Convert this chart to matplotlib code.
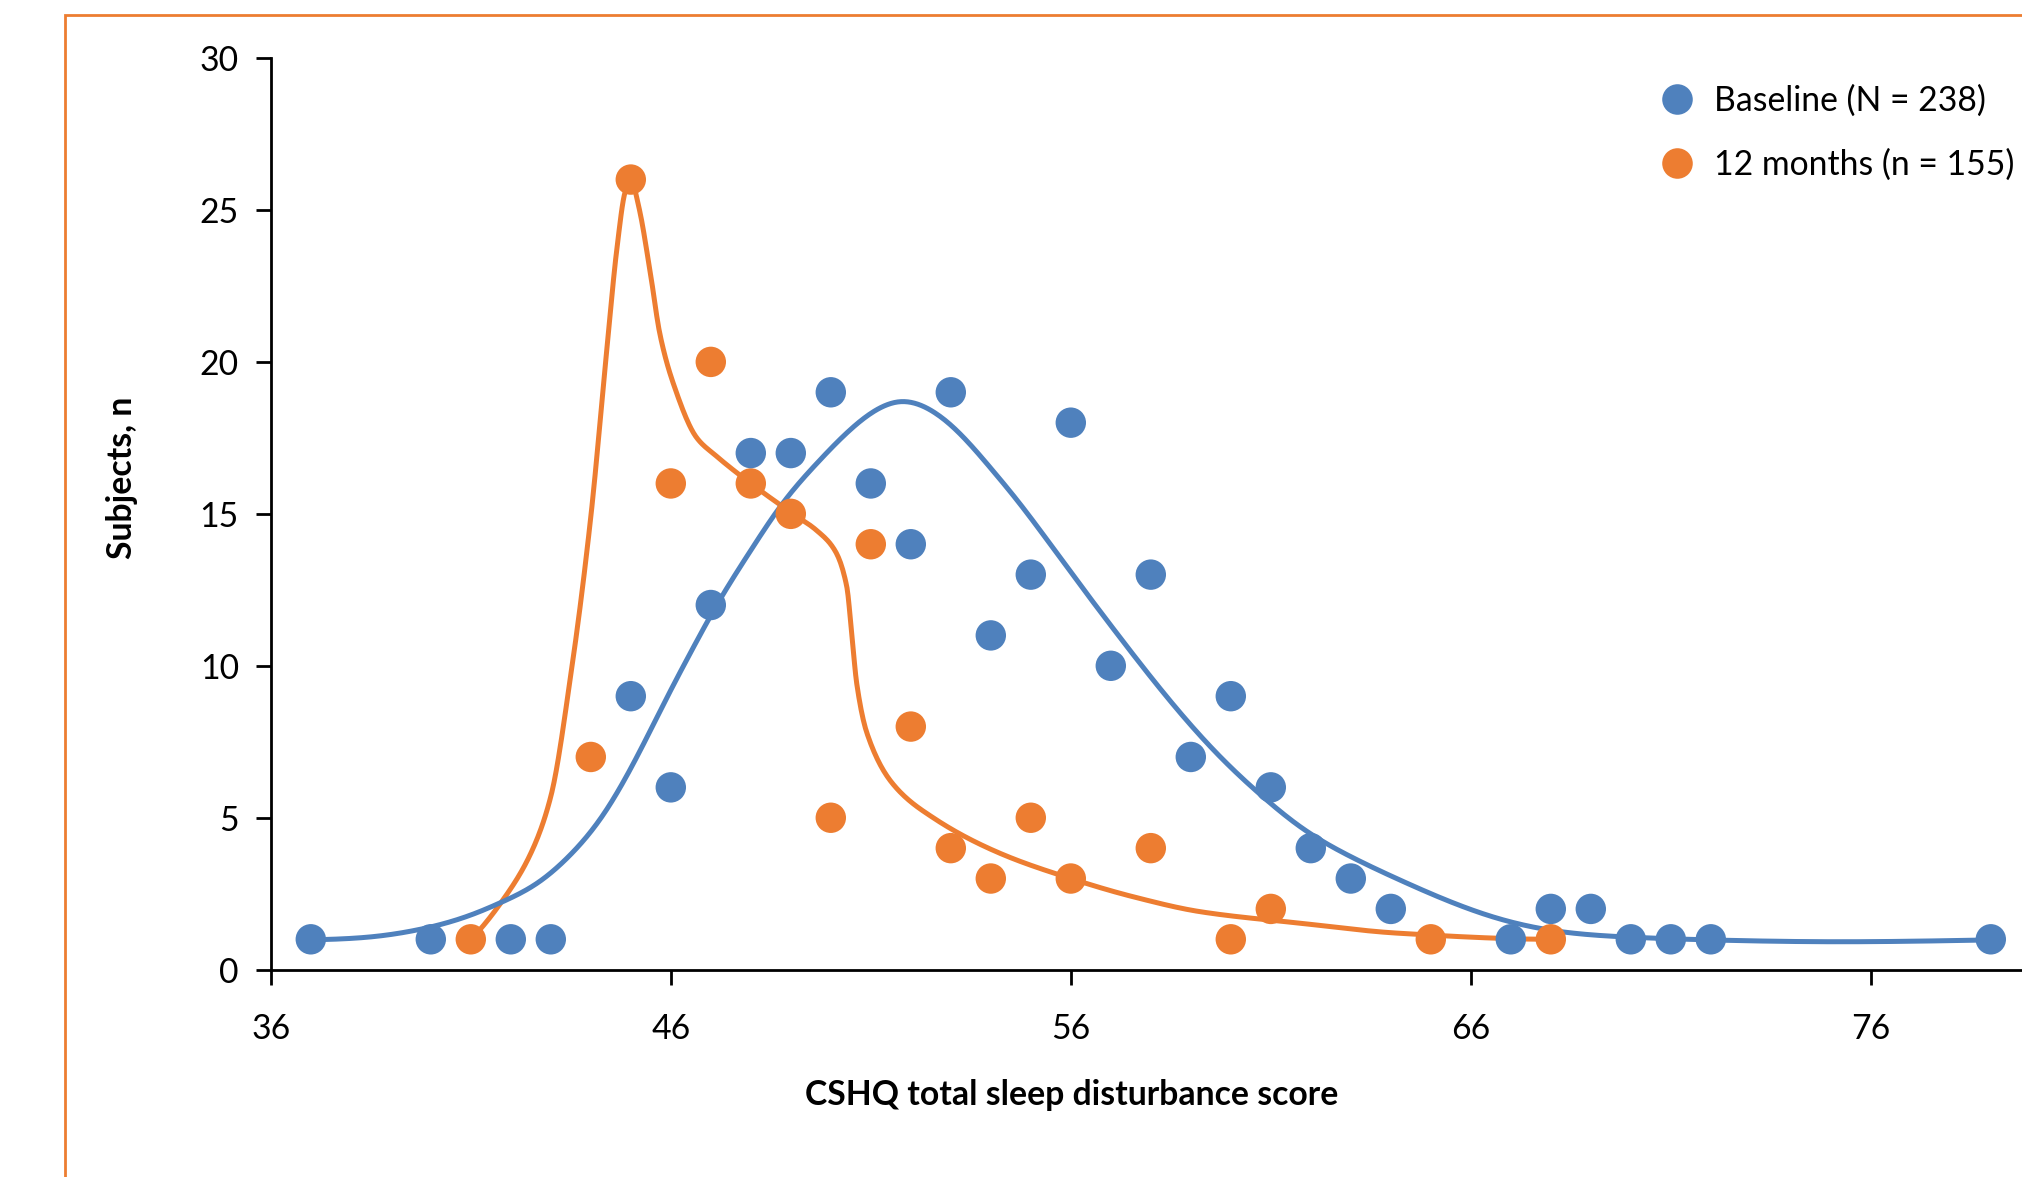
import numpy as np
import matplotlib
matplotlib.use("Agg")
import matplotlib.pyplot as plt
from matplotlib.lines import Line2D
from matplotlib.patches import Rectangle

plt.rcParams['font.family'] = ['Lato', 'DejaVu Sans']

# ---------------- data ----------------
baseline_x = [37, 40, 42, 43, 45, 46, 47, 48, 49, 50, 51, 52, 53, 54, 55, 56, 57, 58,
              59, 60, 61, 62, 63, 64, 67, 68, 69, 70, 71, 72, 79]
baseline_n = [1, 1, 1, 1, 9, 6, 12, 17, 17, 19, 16, 14, 19, 11, 13, 18, 10, 13,
              7, 9, 6, 4, 3, 2, 1, 2, 2, 1, 1, 1, 1]

month12_x = [41, 44, 45, 46, 47, 48, 49, 50, 51, 52, 53, 54, 55, 56, 58, 60, 61, 65, 68]
month12_n = [1, 7, 26, 16, 20, 16, 15, 5, 14, 8, 4, 3, 5, 3, 4, 1, 2, 1, 1]

# smoothed trend curves: knots
baseline_fit_x = [37, 38.5, 39.7, 41, 41.8, 42.65, 43.48, 44.31, 45.15, 46.0, 46.48, 47.15,
                  48.0, 48.8, 49.65, 50.48, 51.3, 51.73, 52.56, 53.0, 54.0, 54.65, 55.9,
                  57.15, 58.4, 59.65, 60.9, 61.73, 63.0, 64.23, 66.7, 68.0, 70.0, 72.0,
                  75.1, 79.0]
baseline_fit_y = [0.98, 1.08, 1.32, 1.8, 2.24, 2.84, 3.77, 5.1, 7.0, 9.2, 10.4, 12.0,
                  13.8, 15.35, 16.66, 17.76, 18.53, 18.69, 18.36, 17.92, 16.5, 15.46, 13.26,
                  11.07, 8.98, 7.12, 5.58, 4.71, 3.72, 2.95, 1.68, 1.3, 1.07, 0.98,
                  0.92, 0.98]

month12_fit_x = [41, 41.8, 42.5, 43.0, 43.5, 44.0, 44.4, 44.65, 44.86, 45.0, 45.2, 45.48,
                 45.73, 46.06, 46.65, 47.14, 48.0, 49.0, 49.65, 50.1, 50.4, 50.52, 50.65,
                 50.9, 51.56, 52.56, 54.23, 56.0, 57.56, 59.23, 61.73, 64.2, 68.0]
month12_fit_y = [1.0, 2.29, 3.83, 5.7, 9.7, 14.9, 20.4, 23.7, 25.6, 26.0, 25.1, 23.0,
                 20.9, 19.3, 17.5, 16.9, 16.0, 15.05, 14.45, 13.8, 12.6, 11.1, 9.4,
                 7.8, 6.1, 5.0, 3.83, 3.0, 2.4, 1.91, 1.53, 1.2, 1.0]

x_ticks = [36, 46, 56, 66, 76]
y_ticks = [0, 5, 10, 15, 20, 25, 30]

labels = ["Baseline (N = 238)", "12 months (n = 155)"]
x_label = "CSHQ total sleep disturbance score"
y_label = "Subjects, n"

BLUE = "#4F81BD"
ORANGE = "#ED7D31"
FS = 24.3


def pchip(x, y, xs):
    x = np.asarray(x, float)
    y = np.asarray(y, float)
    h = np.diff(x)
    delta = np.diff(y) / h
    n = len(x)
    d = np.zeros(n)
    for k in range(1, n - 1):
        if delta[k - 1] * delta[k] <= 0:
            d[k] = 0.0
        else:
            w1 = 2 * h[k] + h[k - 1]
            w2 = h[k] + 2 * h[k - 1]
            d[k] = (w1 + w2) / (w1 / delta[k - 1] + w2 / delta[k])

    def end(h0, h1, d0, d1):
        v = ((2 * h0 + h1) * d0 - h0 * d1) / (h0 + h1)
        if np.sign(v) != np.sign(d0):
            v = 0.0
        elif np.sign(d0) != np.sign(d1) and abs(v) > abs(3 * d0):
            v = 3 * d0
        return v

    d[0] = end(h[0], h[1], delta[0], delta[1])
    d[-1] = end(h[-1], h[-2], delta[-1], delta[-2])
    xs = np.asarray(xs, float)
    idx = np.clip(np.searchsorted(x, xs) - 1, 0, n - 2)
    t = (xs - x[idx]) / h[idx]
    h00 = 2 * t**3 - 3 * t**2 + 1
    h10 = t**3 - 2 * t**2 + t
    h01 = -2 * t**3 + 3 * t**2
    h11 = t**3 - t**2
    return h00 * y[idx] + h10 * h[idx] * d[idx] + h01 * y[idx + 1] + h11 * h[idx] * d[idx + 1]


def natural_spline(x, y, xs):
    x = np.asarray(x, float)
    y = np.asarray(y, float)
    n = len(x)
    h = np.diff(x)
    A = np.zeros((n, n))
    r = np.zeros(n)
    A[0, 0] = A[-1, -1] = 1.0
    for i in range(1, n - 1):
        A[i, i - 1] = h[i - 1]
        A[i, i] = 2 * (h[i - 1] + h[i])
        A[i, i + 1] = h[i]
        r[i] = 6 * ((y[i + 1] - y[i]) / h[i] - (y[i] - y[i - 1]) / h[i - 1])
    M = np.linalg.solve(A, r)
    xs = np.asarray(xs, float)
    idx = np.clip(np.searchsorted(x, xs) - 1, 0, n - 2)
    a = x[idx + 1] - xs
    b = xs - x[idx]
    hh = h[idx]
    return (M[idx] * a**3 / (6 * hh) + M[idx + 1] * b**3 / (6 * hh)
            + (y[idx] / hh - M[idx] * hh / 6) * a + (y[idx + 1] / hh - M[idx + 1] * hh / 6) * b)


W, H = 2022, 1177
fig = plt.figure(figsize=(W / 100, H / 100), dpi=100)

# orange outer frame (chart-area border, cropped on the right and bottom)
fig.patches.append(Rectangle((65 / W, -0.5), 2.0, 1.5 - 15 / H, transform=fig.transFigure,
                             fill=False, edgecolor=ORANGE, linewidth=2.0, zorder=0))

left = 270.8 / W
bottom = 1 - 969.7 / H
top = 1 - 58.0 / H
ax = fig.add_axes([left, bottom, 44 * 40 / W, top - bottom])
ax.set_xlim(36, 80)
ax.set_ylim(0, 30)

for s in ["top", "right"]:
    ax.spines[s].set_visible(False)
for s in ["left", "bottom"]:
    ax.spines[s].set_linewidth(2.0)
    ax.spines[s].set_color("black")

ax.set_xticks(x_ticks)
ax.set_yticks(y_ticks)
ax.tick_params(axis="both", direction="out", length=11, width=2.0, labelsize=FS, colors="black")
ax.tick_params(axis="y", pad=12)
ax.tick_params(axis="x", pad=20)

xs_b = np.linspace(baseline_fit_x[0], baseline_fit_x[-1], 1000)
xs_o = np.linspace(month12_fit_x[0], month12_fit_x[-1], 1000)
ax.plot(xs_o, pchip(month12_fit_x, month12_fit_y, xs_o), color=ORANGE, lw=3.6, zorder=2,
        solid_capstyle="round", solid_joinstyle="round", clip_on=False)
ax.plot(xs_b, natural_spline(baseline_fit_x, baseline_fit_y, xs_b), color=BLUE, lw=3.6,
        zorder=2.5, solid_capstyle="round", solid_joinstyle="round", clip_on=False)

ax.scatter(month12_x, month12_n, s=480, color=ORANGE, edgecolors="none", zorder=3, clip_on=False)
ax.scatter(baseline_x, baseline_n, s=480, color=BLUE, edgecolors="none", zorder=3.5, clip_on=False)

fig.text(122.5 / W, 1 - 478 / H, y_label, rotation=90, ha="center", va="center",
         fontsize=FS, fontweight="bold")
fig.text(1071.6 / W, 1 - 1095 / H, x_label, ha="center", va="center",
         fontsize=FS, fontweight="bold")

handles = [Line2D([], [], ls="", marker="o", ms=22, color=BLUE, mec="none"),
           Line2D([], [], ls="", marker="o", ms=22, color=ORANGE, mec="none")]
fig.legend(handles, labels, loc="upper left", bbox_to_anchor=(1660.4 / W, 1 - 84.5 / H),
           bbox_transform=fig.transFigure, frameon=False, borderpad=0, borderaxespad=0,
           handlelength=1.0, handletextpad=0.6, labelspacing=0.95, numpoints=1,
           fontsize=FS)

fig.savefig("out.png", dpi=100)
